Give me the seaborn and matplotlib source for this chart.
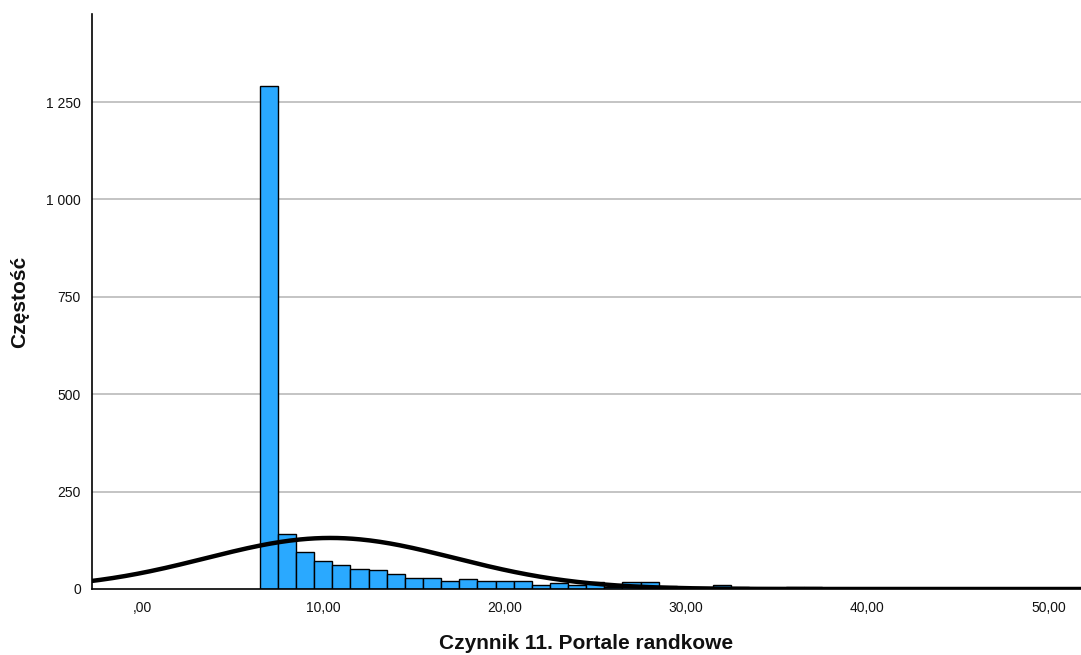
import numpy as np
import seaborn as sns
import matplotlib.pyplot as plt
from matplotlib.ticker import FuncFormatter

# Histogram counts (bins of width 1, centered on integers)
bin_centers = [7, 8, 9, 10, 11, 12, 13, 14, 15, 16, 17, 18, 19, 20, 21, 22,
               23, 24, 25, 26, 27, 28, 29, 30, 31, 32, 33, 34, 35, 36, 37,
               38, 40, 42, 45, 48]
counts = [1291, 141, 94, 73, 62, 52, 49, 39, 27, 27, 21, 25, 21, 21, 21, 11,
          16, 11, 18, 5, 18, 18, 8, 3, 3, 10, 6, 2, 2, 5, 5,
          2, 1, 1, 1, 1]

# Normal curve parameters (SPSS overlay)
curve_mean = 10.4
curve_sd = 6.85
curve_n = 2250

x_label = "Czynnik 11. Portale randkowe"
y_label = "Częstość"
y_ticks = [0, 250, 500, 750, 1000, 1250]
x_ticks = [0, 10, 20, 30, 40, 50]

sns.set_style("white")
plt.rcParams['font.family'] = ['Liberation Sans', 'DejaVu Sans']

fig = plt.figure(figsize=(10.81, 6.55), dpi=100)
ax = fig.add_axes([92 / 1081, 66 / 655, 989 / 1081, 575 / 655])

for yt in y_ticks[1:]:
    ax.axhline(yt, color="#b4b4b4", lw=1.1, zorder=0)

sns.histplot(x=bin_centers, weights=counts, discrete=True, color="#2aa9ff",
             edgecolor="black", linewidth=1.0, alpha=1, ax=ax, zorder=2)

xs = np.linspace(-3, 52, 400)
ys = curve_n / (curve_sd * np.sqrt(2 * np.pi)) * np.exp(-0.5 * ((xs - curve_mean) / curve_sd) ** 2)
sns.lineplot(x=xs, y=ys, color="black", lw=3.2, ax=ax, zorder=3)

ax.set_xlim(-2.76, 51.8)
ax.set_ylim(0, 1476)
ax.set_xticks(x_ticks)
ax.set_yticks(y_ticks)
ax.xaxis.set_major_formatter(FuncFormatter(lambda v, p: ",00" if v == 0 else f"{v:.2f}".replace(".", ",")))
ax.yaxis.set_major_formatter(FuncFormatter(lambda v, p: f"{int(v):,}".replace(",", " ")))
ax.tick_params(axis="both", length=0, labelsize=10, colors="#111111", pad=8)
ax.tick_params(axis="x", pad=9)

for s in ["top", "right"]:
    ax.spines[s].set_visible(False)
for s in ["left", "bottom"]:
    ax.spines[s].set_color("black")
    ax.spines[s].set_linewidth(1.2)

ax.set_xlabel(x_label, fontsize=15, fontweight="bold", labelpad=13, color="#111111")
ax.set_ylabel(y_label, fontsize=15, fontweight="bold", labelpad=12, color="#111111")

fig.savefig("out.png", dpi=100)
